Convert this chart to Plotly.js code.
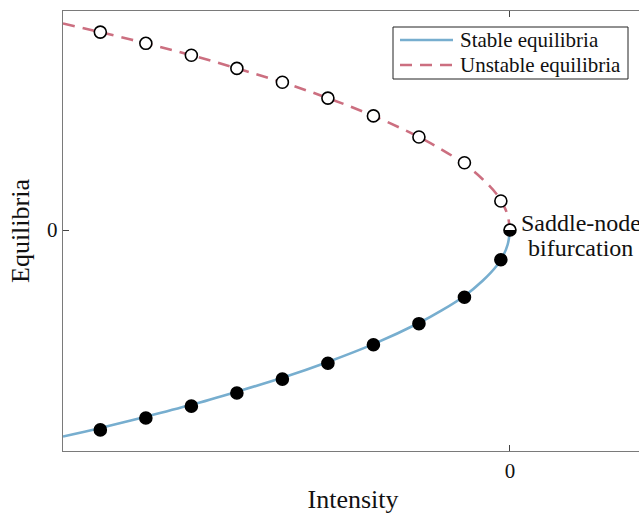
<!DOCTYPE html>
<html>
<head>
<meta charset="utf-8">
<script src="https://cdn.plot.ly/plotly-3.0.1.min.js"></script>
<style>
html,body{margin:0;padding:0;overflow:hidden;background:#fff;}
#chart{width:700px;height:514px;}
</style>
</head>
<body>
<div id="chart"></div>
<script>
// Curve samples
const lineX = [-9.82,-9,-8,-7,-6,-5,-4,-3,-2,-1.5,-1,-0.6,-0.3,-0.15,-0.05,0];
const stableLineY = [-3.13,-3,-2.83,-2.65,-2.45,-2.24,-2,-1.73,-1.41,-1.22,-1,-0.77,-0.55,-0.39,-0.22,0];
const unstableLineY = [3.13,3,2.83,2.65,2.45,2.24,2,1.73,1.41,1.22,1,0.77,0.55,0.39,0.22,0];

// Marker samples
const pointX = [-9,-8,-7,-6,-5,-4,-3,-2,-1,-0.2,0];
const stablePointY = [-3.03,-2.85,-2.67,-2.47,-2.26,-2.02,-1.74,-1.42,-1.02,-0.45,0];
const unstablePointY = [3.0,2.83,2.65,2.45,2.24,2.0,1.73,1.41,1.02,0.44,0];

const seriesNames = ['Stable equilibria', 'Unstable equilibria'];
const xTicks = [0];
const xTickText = ['0'];
const yTicks = [0];
const yTickText = ['0'];

const serif = "'Liberation Serif', 'DejaVu Serif', serif";
const blue = '#77AECF';
const red = '#CC6F80';
const dashPat = '12px,8px';

// plot area in page pixels
const L = 63, R = 643, T = 11, B = 451;
const px = v => (v - L) / (R - L);
const py = v => (B - v) / (B - T);

const n = pointX.length;
const r = 5, k = 0.552 * 5;
const halfPath = `M ${-r} 0 C ${-r} ${k}, ${-k} ${r}, 0 ${r} C ${k} ${r}, ${r} ${k}, ${r} 0 Z`;

const traces = [
  {x: lineX, y: stableLineY, mode: 'lines', name: seriesNames[0], showlegend: false,
   line: {color: blue, width: 2.6, shape: 'spline'}},
  {x: lineX, y: unstableLineY, mode: 'lines', name: seriesNames[1], showlegend: false,
   line: {color: red, width: 2.6, dash: dashPat, shape: 'spline'}},
  {x: pointX.slice(0, n-1), y: unstablePointY.slice(0, n-1), mode: 'markers', showlegend: false,
   marker: {symbol: 'circle', size: 12, color: '#fff', line: {color: '#000', width: 1.6}}},
  {x: pointX, y: stablePointY, mode: 'markers', showlegend: false,
   marker: {symbol: 'circle', size: 12, color: '#000', line: {color: '#000', width: 1.6}}}
];

const txtFont = {family: serif, size: 21, color: '#111'};

const layout = {
  width: 700, height: 514,
  margin: {l: L, r: 700 - R, t: T, b: 514 - B},
  paper_bgcolor: '#fff', plot_bgcolor: '#fff',
  font: {family: serif, color: '#111'},
  showlegend: false,
  xaxis: {
    range: [-9.82, (R - 510) / 45.5],
    tickvals: xTicks, ticktext: xTickText,
    ticks: 'inside', ticklen: 6, tickcolor: '#444', tickwidth: 1,
    showline: true, linecolor: '#7a7a7a', linewidth: 1.4, mirror: 'ticks',
    showgrid: false, zeroline: false,
    tickfont: {family: serif, size: 21, color: '#111'},
    title: {text: 'Intensity', font: {family: serif, size: 26, color: '#111'}, standoff: 10}
  },
  yaxis: {
    range: [-3.35, 3.32],
    tickvals: yTicks, ticktext: yTickText,
    ticks: 'inside', ticklen: 6, tickcolor: '#444', tickwidth: 1,
    showline: true, linecolor: '#7a7a7a', linewidth: 1.4, mirror: 'ticks',
    showgrid: false, zeroline: false,
    tickfont: {family: serif, size: 21, color: '#111'},
    title: {text: 'Equilibria', font: {family: serif, size: 26, color: '#111'}, standoff: 10}
  },
  shapes: [
    {type: 'path', xref: 'x', yref: 'y', xsizemode: 'pixel', ysizemode: 'pixel',
     xanchor: pointX[n-1], yanchor: unstablePointY[n-1],
     path: halfPath, fillcolor: '#fff', line: {width: 0}, layer: 'above'},
    // legend box
    {type: 'rect', xref: 'paper', yref: 'paper', x0: px(393), x1: px(628), y0: py(79), y1: py(27),
     fillcolor: '#fff', line: {color: '#222', width: 1}, layer: 'above'},
    {type: 'line', xref: 'paper', yref: 'paper', x0: px(400), x1: px(453), y0: py(40), y1: py(40),
     line: {color: blue, width: 2.6}, layer: 'above'},
    {type: 'line', xref: 'paper', yref: 'paper', x0: px(400), x1: px(453), y0: py(65), y1: py(65),
     line: {color: red, width: 2.6, dash: dashPat}, layer: 'above'}
  ],
  annotations: [
    {x: px(458), y: py(40), xref: 'paper', yref: 'paper', text: seriesNames[0], showarrow: false,
     xanchor: 'left', yanchor: 'middle', font: txtFont},
    {x: px(458), y: py(65), xref: 'paper', yref: 'paper', text: seriesNames[1], showarrow: false,
     xanchor: 'left', yanchor: 'middle', font: txtFont},
    {x: pointX[n-1], y: unstablePointY[n-1], xref: 'x', yref: 'y',
     text: 'Saddle-node', showarrow: false, xanchor: 'center', yanchor: 'middle',
     xshift: 71, yshift: 7, font: {family: serif, size: 24, color: '#111'}},
    {x: pointX[n-1], y: unstablePointY[n-1], xref: 'x', yref: 'y',
     text: 'bifurcation', showarrow: false, xanchor: 'center', yanchor: 'middle',
     xshift: 71, yshift: -18, font: {family: serif, size: 24, color: '#111'}}
  ]
};

Plotly.newPlot('chart', traces, layout, {displayModeBar: false, staticPlot: true});
</script>
</body>
</html>
